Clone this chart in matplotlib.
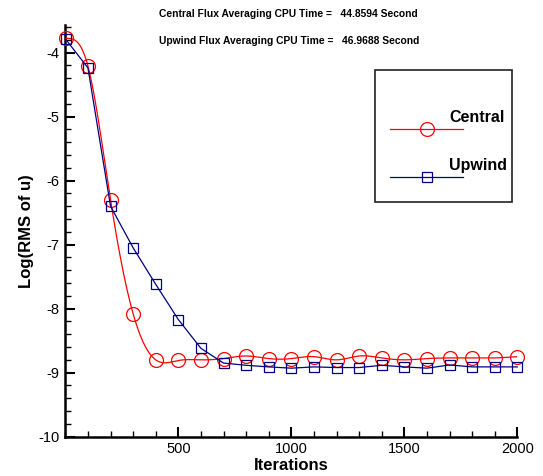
"""
Convergence history: central vs upwind flux averaging.
"""

import numpy as np
import matplotlib
matplotlib.use("Agg")
import matplotlib.pyplot as plt
from matplotlib.patches import Rectangle
from matplotlib.lines import Line2D
from matplotlib.ticker import MultipleLocator, FixedLocator

# ─── DATA ─────────────────────────────────────────────────────────────────────
iterations = [1, 100, 200, 300, 400, 500, 600, 700, 800, 900, 1000,
              1100, 1200, 1300, 1400, 1500, 1600, 1700, 1800, 1900, 2000]

log_rms_central = [-3.78, -4.21, -6.30, -8.08, -8.80, -8.81, -8.80, -8.78,
                   -8.74, -8.78, -8.78, -8.75, -8.80, -8.74, -8.77, -8.80,
                   -8.78, -8.77, -8.77, -8.77, -8.75]

log_rms_upwind = [-3.79, -4.24, -6.40, -7.05, -7.62, -8.17, -8.62, -8.85,
                  -8.885, -8.91, -8.93, -8.91, -8.92, -8.92, -8.885, -8.91,
                  -8.93, -8.88, -8.91, -8.91, -8.91]

cpu_central = 44.8594
cpu_upwind = 46.9688

# ─── STYLE ────────────────────────────────────────────────────────────────────
RED = "#ff0000"
NAVY = "#000080"

plt.rcParams.update({
    "font.family": "Liberation Sans",
    "axes.unicode_minus": False,
})


def natural_spline(x, y, n=600):
    """Smooth curve through the points (natural cubic spline)."""
    x = np.asarray(x, float)
    y = np.asarray(y, float)
    h = np.diff(x)
    m = len(x)
    A = np.zeros((m, m))
    b = np.zeros(m)
    A[0, 0] = A[-1, -1] = 1.0
    for i in range(1, m - 1):
        A[i, i - 1] = h[i - 1]
        A[i, i] = 2 * (h[i - 1] + h[i])
        A[i, i + 1] = h[i]
        b[i] = 6 * ((y[i + 1] - y[i]) / h[i] - (y[i] - y[i - 1]) / h[i - 1])
    M = np.linalg.solve(A, b)
    xs = np.linspace(x[0], x[-1], n)
    k = np.clip(np.searchsorted(x, xs) - 1, 0, m - 2)
    t0 = x[k + 1] - xs
    t1 = xs - x[k]
    hk = h[k]
    ys = (M[k] * t0**3 / (6 * hk) + M[k + 1] * t1**3 / (6 * hk)
          + (y[k] / hk - M[k] * hk / 6) * t0
          + (y[k + 1] / hk - M[k + 1] * hk / 6) * t1)
    return xs, ys


fig = plt.figure(figsize=(5.43, 4.76), dpi=100)
ax = fig.add_axes([0.1203, 0.0826, 0.8324, 0.8649])

xs, ys = natural_spline(iterations, log_rms_central)
ax.plot(xs, ys, color=RED, lw=0.9, zorder=3)
ax.plot(iterations, log_rms_central, ls="none", marker="o", ms=10,
        mfc="none", mec=RED, mew=0.9, clip_on=False, zorder=4)

ax.plot(iterations, log_rms_upwind, color=NAVY, lw=0.9, marker="s", ms=7.5,
        mfc="none", mec=NAVY, mew=0.9, clip_on=False, zorder=4)

ax.set_xlim(0, 2000)
ax.set_ylim(-10, -3.57)
ax.xaxis.set_major_locator(FixedLocator([500, 1000, 1500, 2000]))
ax.xaxis.set_minor_locator(MultipleLocator(100))
ax.yaxis.set_major_locator(MultipleLocator(1))
ax.yaxis.set_minor_locator(MultipleLocator(0.2))

for side in ("top", "right"):
    ax.spines[side].set_visible(False)
for side in ("left", "bottom"):
    ax.spines[side].set_linewidth(1.8)

ax.tick_params(which="major", direction="in", length=7, width=1.5,
               labelsize=10.5, pad=4)
ax.tick_params(which="minor", direction="in", length=4, width=1.0)

ax.set_xlabel("Iterations", fontsize=12, fontweight="bold", labelpad=1)
ax.set_ylabel("Log(RMS of u)", fontsize=12, fontweight="bold", labelpad=3)

# CPU time notes
fig.text(159 / 543, 1 - 14 / 476,
         f"Central Flux Averaging CPU Time =   {cpu_central:.4f} Second",
         fontsize=7.4, fontweight="bold", va="center", ha="left")
fig.text(159 / 543, 1 - 41 / 476,
         f"Upwind Flux Averaging CPU Time =   {cpu_upwind:.4f} Second",
         fontsize=7.4, fontweight="bold", va="center", ha="left")

# legend box
W, H = 543, 476
fig.patches.append(Rectangle((375 / W, 1 - 202 / H), 137 / W, 132 / H,
                             transform=fig.transFigure, fill=False,
                             edgecolor="#222222", lw=1.2))
for ypos, color, mk, ms, label in [(129, RED, "o", 10, "Central"),
                                   (177, NAVY, "s", 7.5, "Upwind")]:
    fig.lines.append(Line2D([390 / W, 463 / W], [1 - ypos / H] * 2,
                            transform=fig.transFigure, color=color, lw=0.9))
    fig.lines.append(Line2D([427 / W], [1 - ypos / H],
                            transform=fig.transFigure, ls="none", marker=mk,
                            ms=ms, mfc="none", mec=color, mew=0.9))
    fig.text(449 / W, 1 - (ypos - 11.5) / H, label, fontsize=11.5,
             fontweight="bold", va="center", ha="left")

fig.savefig("out.png", dpi=100)
